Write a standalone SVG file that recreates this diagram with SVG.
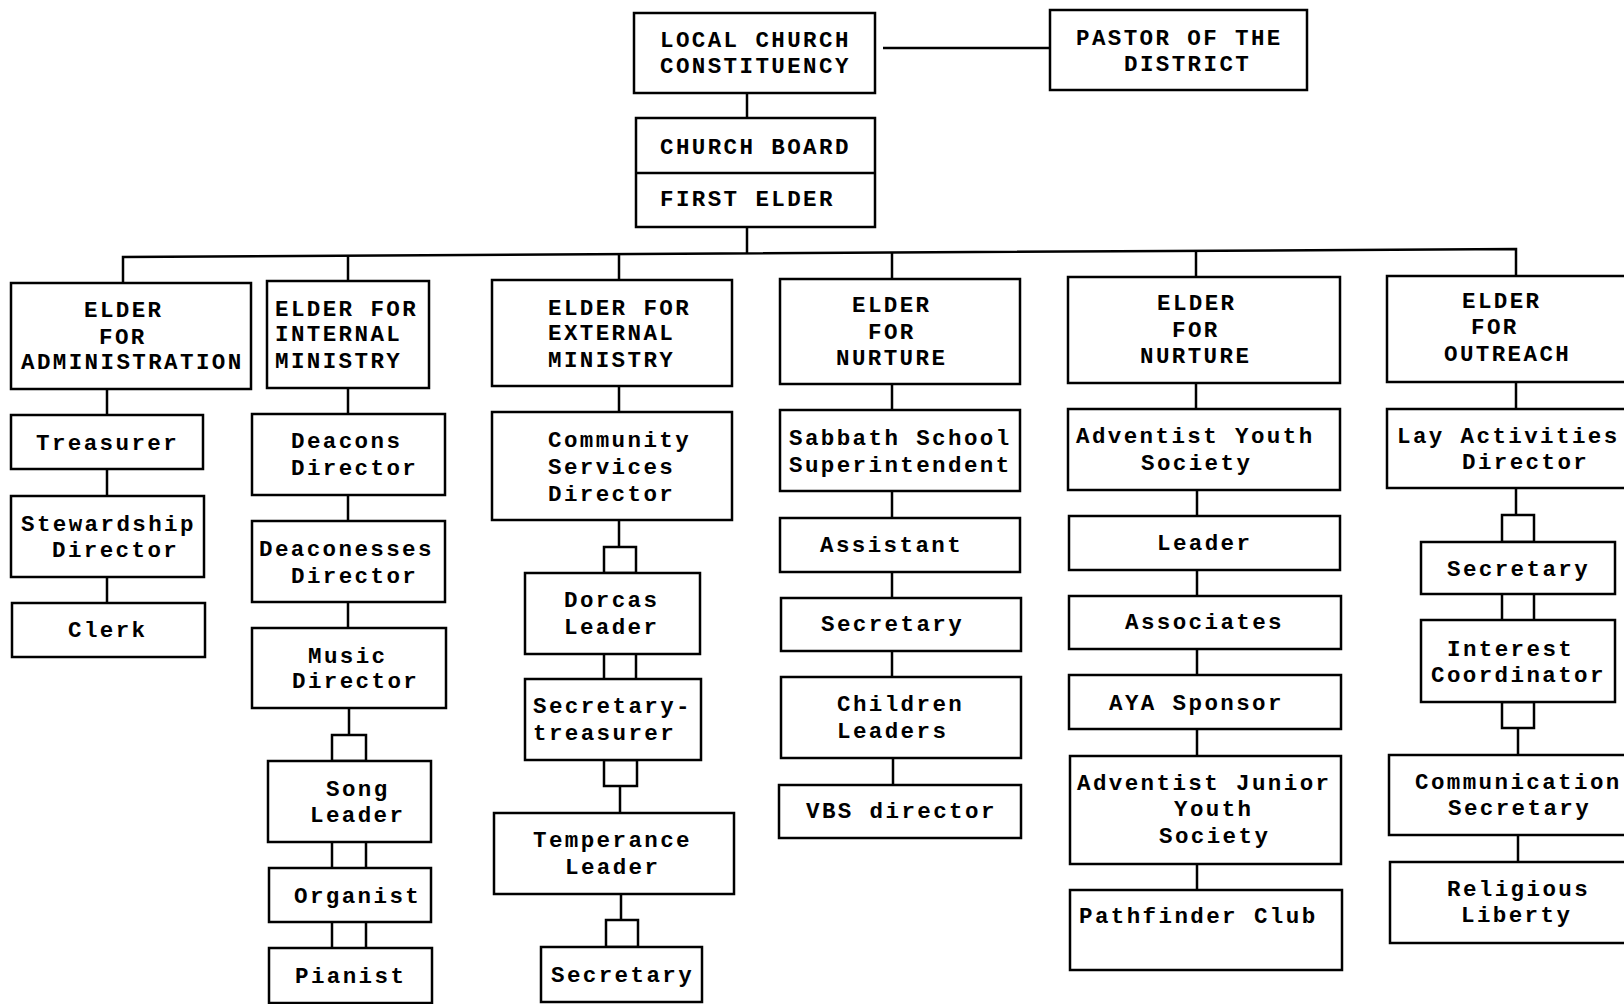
<svg xmlns="http://www.w3.org/2000/svg" width="1624" height="1004" viewBox="0 0 1624 1004">
  <style>
    .box { fill: #fff; stroke: #000; stroke-width: 2.5; }
    .sq { fill: none; stroke: #000; stroke-width: 2.5; }
    .ln { fill: none; stroke: #000; stroke-width: 2.5; }
    text { font-family: "Liberation Mono", "Courier New", monospace; font-size: 22.5px; letter-spacing: 2.4px; font-weight: bold; fill: #000; }
  </style>
  <rect width="1624" height="1004" fill="#fff"/>

  <!-- connectors -->
  <g id="connectors">
    <path class="ln" d="M883 48 H1050"/>
    <path class="ln" d="M747 93 V118"/>
    <path class="ln" d="M747 227 V253.4"/>
    <path class="ln" d="M123 283 V257 L1516 249 V276"/>
    <path class="ln" d="M348 255.7 V281"/>
    <path class="ln" d="M619 254.2 V280"/>
    <path class="ln" d="M892 252.6 V279"/>
    <path class="ln" d="M1196 250.8 V277"/>
    <!-- administration column -->
    <path class="ln" d="M107 389 V415 M107 469 V496 M107 577 V603"/>
    <!-- internal ministry column -->
    <path class="ln" d="M348 388 V414 M348 495 V521 M348 602 V628 M349 708 V735"/>
    <rect class="sq" x="332" y="735" width="34" height="26"/>
    <path class="ln" d="M332 842 V868 M366 842 V868 M332 922 V948 M366 922 V948"/>
    <!-- external ministry column -->
    <path class="ln" d="M619 386 V412 M619 520 V547"/>
    <rect class="sq" x="604" y="547" width="32" height="26"/>
    <path class="ln" d="M604 654 V679 M636 654 V679"/>
    <rect class="sq" x="604" y="760" width="33" height="26"/>
    <path class="ln" d="M620 786 V813 M621 894 V920"/>
    <rect class="sq" x="606" y="920" width="32" height="27"/>
    <!-- nurture column -->
    <path class="ln" d="M892 384 V410 M892 491 V518 M892 572 V598 M892 651 V677 M893 758 V785"/>
    <!-- youth column -->
    <path class="ln" d="M1196 383 V409 M1197 490 V516 M1197 570 V596 M1197 649 V675 M1197 729 V756 M1197 864 V890"/>
    <!-- outreach column -->
    <path class="ln" d="M1516 382 V409 M1516 488 V515"/>
    <rect class="sq" x="1502" y="515" width="32" height="27"/>
    <path class="ln" d="M1502 594 V620 M1534 594 V620"/>
    <rect class="sq" x="1502" y="702" width="32" height="26"/>
    <path class="ln" d="M1518 728 V755 M1518 835 V862"/>
  </g>

  <!-- top of the chart -->
  <g id="constituency">
    <rect class="box" x="634" y="13" width="241" height="80"/>
    <text x="660" y="47">LOCAL CHURCH</text>
    <text x="660" y="73">CONSTITUENCY</text>
  </g>
  <g id="pastor">
    <rect class="box" x="1050" y="10" width="257" height="80"/>
    <text x="1076" y="45">PASTOR OF THE</text>
    <text x="1124" y="71">DISTRICT</text>
  </g>
  <g id="board">
    <rect class="box" x="636" y="118" width="239" height="109"/>
    <path class="ln" d="M636 173 H875"/>
    <text x="660" y="154">CHURCH BOARD</text>
    <text x="660" y="206">FIRST ELDER</text>
  </g>

  <!-- elder for administration -->
  <g id="elder-admin">
    <rect class="box" x="11" y="283" width="240" height="106"/>
    <text x="84" y="317">ELDER</text>
    <text x="99" y="344">FOR</text>
    <text x="21" y="369">ADMINISTRATION</text>
  </g>
  <g id="treasurer">
    <rect class="box" x="11" y="415" width="192" height="54"/>
    <text x="36" y="450">Treasurer</text>
  </g>
  <g id="stewardship">
    <rect class="box" x="11" y="496" width="193" height="81"/>
    <text x="21" y="531">Stewardship</text>
    <text x="52" y="557">Director</text>
  </g>
  <g id="clerk">
    <rect class="box" x="12" y="603" width="193" height="54"/>
    <text x="68" y="637">Clerk</text>
  </g>

  <!-- elder for internal ministry -->
  <g id="elder-internal">
    <rect class="box" x="267" y="281" width="162" height="107"/>
    <text x="275" y="316">ELDER FOR</text>
    <text x="275" y="341">INTERNAL</text>
    <text x="275" y="368">MINISTRY</text>
  </g>
  <g id="deacons">
    <rect class="box" x="252" y="414" width="193" height="81"/>
    <text x="291" y="448">Deacons</text>
    <text x="291" y="475">Director</text>
  </g>
  <g id="deaconesses">
    <rect class="box" x="252" y="521" width="193" height="81"/>
    <text x="259" y="556">Deaconesses</text>
    <text x="291" y="583">Director</text>
  </g>
  <g id="music">
    <rect class="box" x="252" y="628" width="194" height="80"/>
    <text x="308" y="663">Music</text>
    <text x="292" y="688">Director</text>
  </g>
  <g id="song-leader">
    <rect class="box" x="268" y="761" width="163" height="81"/>
    <text x="326" y="796">Song</text>
    <text x="310" y="822">Leader</text>
  </g>
  <g id="organist">
    <rect class="box" x="269" y="868" width="162" height="54"/>
    <text x="294" y="903">Organist</text>
  </g>
  <g id="pianist">
    <rect class="box" x="269" y="948" width="163" height="55"/>
    <text x="295" y="983">Pianist</text>
  </g>

  <!-- elder for external ministry -->
  <g id="elder-external">
    <rect class="box" x="492" y="280" width="240" height="106"/>
    <text x="548" y="315">ELDER FOR</text>
    <text x="548" y="340">EXTERNAL</text>
    <text x="548" y="367">MINISTRY</text>
  </g>
  <g id="community-services">
    <rect class="box" x="492" y="412" width="240" height="108"/>
    <text x="548" y="447">Community</text>
    <text x="548" y="474">Services</text>
    <text x="548" y="501">Director</text>
  </g>
  <g id="dorcas">
    <rect class="box" x="525" y="573" width="175" height="81"/>
    <text x="564" y="607">Dorcas</text>
    <text x="564" y="634">Leader</text>
  </g>
  <g id="secretary-treasurer">
    <rect class="box" x="525" y="679" width="176" height="81"/>
    <text x="533" y="713">Secretary-</text>
    <text x="533" y="740">treasurer</text>
  </g>
  <g id="temperance">
    <rect class="box" x="494" y="813" width="240" height="81"/>
    <text x="533" y="847">Temperance</text>
    <text x="565" y="874">Leader</text>
  </g>
  <g id="external-secretary">
    <rect class="box" x="541" y="947" width="161" height="55"/>
    <text x="551" y="982">Secretary</text>
  </g>

  <!-- elder for nurture -->
  <g id="elder-nurture">
    <rect class="box" x="780" y="279" width="240" height="105"/>
    <text x="852" y="312">ELDER</text>
    <text x="868" y="339">FOR</text>
    <text x="836" y="365">NURTURE</text>
  </g>
  <g id="sabbath-school">
    <rect class="box" x="780" y="410" width="240" height="81"/>
    <text x="789" y="445">Sabbath School</text>
    <text x="789" y="472">Superintendent</text>
  </g>
  <g id="assistant">
    <rect class="box" x="780" y="518" width="240" height="54"/>
    <text x="820" y="552">Assistant</text>
  </g>
  <g id="nurture-secretary">
    <rect class="box" x="781" y="598" width="240" height="53"/>
    <text x="821" y="631">Secretary</text>
  </g>
  <g id="children-leaders">
    <rect class="box" x="781" y="677" width="240" height="81"/>
    <text x="837" y="711">Children</text>
    <text x="837" y="738">Leaders</text>
  </g>
  <g id="vbs-director">
    <rect class="box" x="779" y="785" width="242" height="53"/>
    <text x="806" y="818">VBS director</text>
  </g>

  <!-- elder for nurture (youth) -->
  <g id="elder-nurture-youth">
    <rect class="box" x="1068" y="277" width="272" height="106"/>
    <text x="1157" y="310">ELDER</text>
    <text x="1172" y="337">FOR</text>
    <text x="1140" y="363">NURTURE</text>
  </g>
  <g id="adventist-youth">
    <rect class="box" x="1068" y="409" width="272" height="81"/>
    <text x="1076" y="443">Adventist Youth</text>
    <text x="1141" y="470">Society</text>
  </g>
  <g id="youth-leader">
    <rect class="box" x="1069" y="516" width="271" height="54"/>
    <text x="1157" y="550">Leader</text>
  </g>
  <g id="associates">
    <rect class="box" x="1069" y="596" width="272" height="53"/>
    <text x="1125" y="629">Associates</text>
  </g>
  <g id="aya-sponsor">
    <rect class="box" x="1069" y="675" width="272" height="54"/>
    <text x="1109" y="710">AYA Sponsor</text>
  </g>
  <g id="junior-youth">
    <rect class="box" x="1070" y="756" width="271" height="108"/>
    <text x="1077" y="790">Adventist Junior</text>
    <text x="1174" y="816">Youth</text>
    <text x="1159" y="843">Society</text>
  </g>
  <g id="pathfinder">
    <rect class="box" x="1070" y="890" width="272" height="80"/>
    <text x="1079" y="923">Pathfinder Club</text>
  </g>

  <!-- elder for outreach -->
  <g id="elder-outreach">
    <rect class="box" x="1387" y="276" width="260" height="106"/>
    <text x="1462" y="308">ELDER</text>
    <text x="1471" y="334">FOR</text>
    <text x="1444" y="361">OUTREACH</text>
  </g>
  <g id="lay-activities">
    <rect class="box" x="1387" y="409" width="260" height="79"/>
    <text x="1397" y="443">Lay Activities</text>
    <text x="1462" y="469">Director</text>
  </g>
  <g id="outreach-secretary">
    <rect class="box" x="1421" y="542" width="194" height="52"/>
    <text x="1447" y="576">Secretary</text>
  </g>
  <g id="interest-coordinator">
    <rect class="box" x="1421" y="620" width="194" height="82"/>
    <text x="1447" y="656">Interest</text>
    <text x="1431" y="682">Coordinator</text>
  </g>
  <g id="communication">
    <rect class="box" x="1389" y="755" width="260" height="80"/>
    <text x="1415" y="789">Communication</text>
    <text x="1448" y="815">Secretary</text>
  </g>
  <g id="religious-liberty">
    <rect class="box" x="1390" y="862" width="260" height="81"/>
    <text x="1447" y="896">Religious</text>
    <text x="1461" y="922">Liberty</text>
  </g>
</svg>
